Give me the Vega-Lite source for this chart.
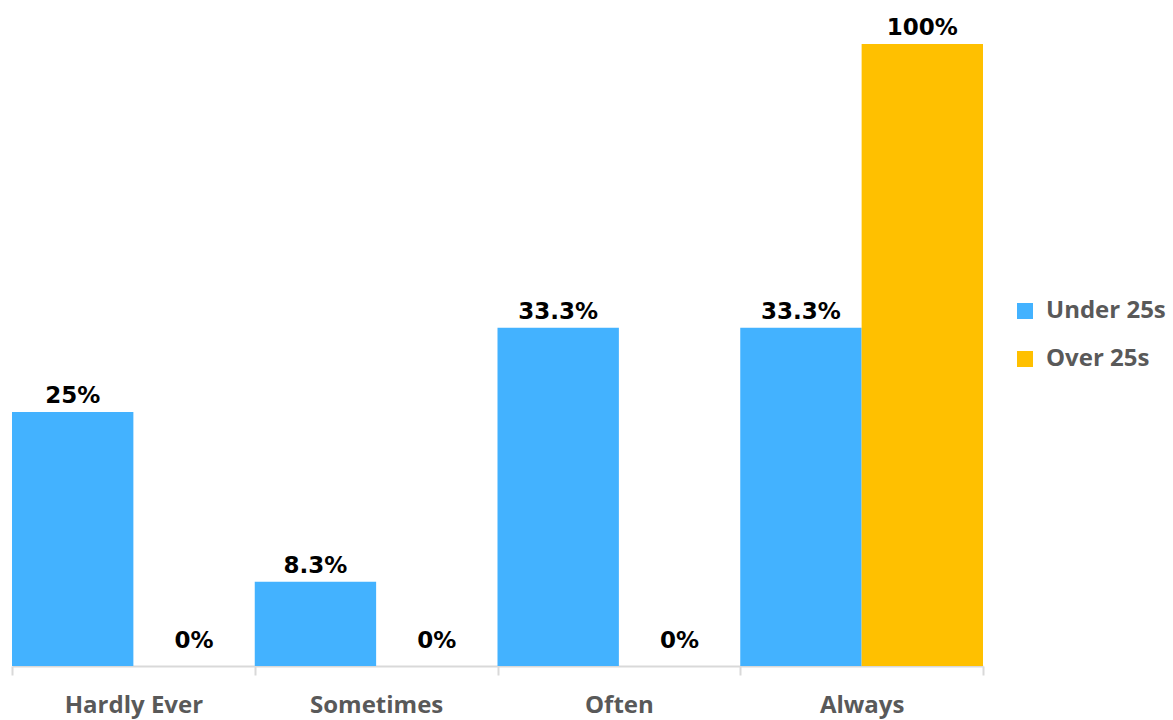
{
  "$schema": "https://vega.github.io/schema/vega-lite/v6.json",
  "width": 971,
  "height": 622,
  "autosize": {"type": "none"},
  "padding": {"left": 12, "top": 44, "right": 190, "bottom": 54},
  "background": "white",
  "config": {"view": {"stroke": null}},
  "data": {
    "values": [
      {"category": "Hardly Ever", "series": "Under 25s", "value": 0.25, "label": "25%"},
      {"category": "Hardly Ever", "series": "Over 25s", "value": 0, "label": "0%"},
      {"category": "Sometimes", "series": "Under 25s", "value": 0.083, "label": "8.3%"},
      {"category": "Sometimes", "series": "Over 25s", "value": 0, "label": "0%"},
      {"category": "Often", "series": "Under 25s", "value": 0.333, "label": "33.3%"},
      {"category": "Often", "series": "Over 25s", "value": 0, "label": "0%"},
      {"category": "Always", "series": "Under 25s", "value": 0.333, "label": "33.3%"},
      {"category": "Always", "series": "Over 25s", "value": 1, "label": "100%"}
    ]
  },
  "encoding": {
    "x": {
      "field": "category", "type": "nominal",
      "sort": ["Hardly Ever", "Sometimes", "Often", "Always"],
      "scale": {"paddingInner": 0, "paddingOuter": 0},
      "axis": {
        "title": null, "labelAngle": 0, "tickBand": "extent",
        "domainColor": "#d9d9d9", "domainWidth": 2, "tickColor": "#d9d9d9", "tickWidth": 2, "tickSize": 9,
        "labelFont": "Open Sans", "labelFontWeight": "bold", "labelFontSize": 24, "labelColor": "#595959",
        "labelPadding": 18, "labelBaseline": "top"
      }
    },
    "xOffset": {"field": "series", "type": "nominal", "scale": {"domain": ["Under 25s", "Over 25s"], "paddingInner": 0, "paddingOuter": 0}}
  },
  "layer": [
    {
      "transform": [{"filter": "datum.series === 'Under 25s'"}],
      "encoding": {
        "y": {"field": "value", "type": "quantitative", "scale": {"domain": [0, 0.6125], "nice": false, "zero": true}, "axis": null}
      },
      "layer": [
        {
          "mark": {"type": "bar"},
          "encoding": {
            "color": {
              "field": "series", "type": "nominal",
              "scale": {"domain": ["Under 25s", "Over 25s"], "range": ["#43B2FF", "#FFC000"]},
              "legend": {
                "title": null, "orient": "none", "legendX": 1001, "legendY": 255,
                "symbolType": "square", "symbolSize": 256, "symbolStrokeWidth": 0,
                "labelFont": "Open Sans", "labelFontWeight": "bold", "labelFontSize": 24, "labelColor": "#595959",
                "rowPadding": 24, "labelOffset": 9
              }
            }
          }
        },
        {
          "mark": {"type": "text", "baseline": "alphabetic", "dy": -9, "font": "DejaVu Sans", "fontWeight": "bold", "fontSize": 23, "color": "#000000"},
          "encoding": {"text": {"field": "label"}}
        }
      ]
    },
    {
      "transform": [{"filter": "datum.series === 'Over 25s'"}],
      "encoding": {
        "y": {"field": "value", "type": "quantitative", "scale": {"domain": [0, 1], "nice": false, "zero": true}, "axis": null}
      },
      "layer": [
        {
          "mark": {"type": "bar"},
          "encoding": {
            "color": {"field": "series", "type": "nominal"}
          }
        },
        {
          "transform": [{"filter": "datum.value > 0"}],
          "mark": {"type": "text", "baseline": "alphabetic", "dy": -9, "font": "DejaVu Sans", "fontWeight": "bold", "fontSize": 23, "color": "#000000"},
          "encoding": {"text": {"field": "label"}}
        },
        {
          "transform": [{"filter": "datum.value == 0"}],
          "mark": {"type": "text", "baseline": "alphabetic", "dy": -18, "font": "DejaVu Sans", "fontWeight": "bold", "fontSize": 23, "color": "#000000"},
          "encoding": {"text": {"field": "label"}}
        }
      ]
    }
  ],
  "resolve": {"scale": {"y": "independent"}}
}
